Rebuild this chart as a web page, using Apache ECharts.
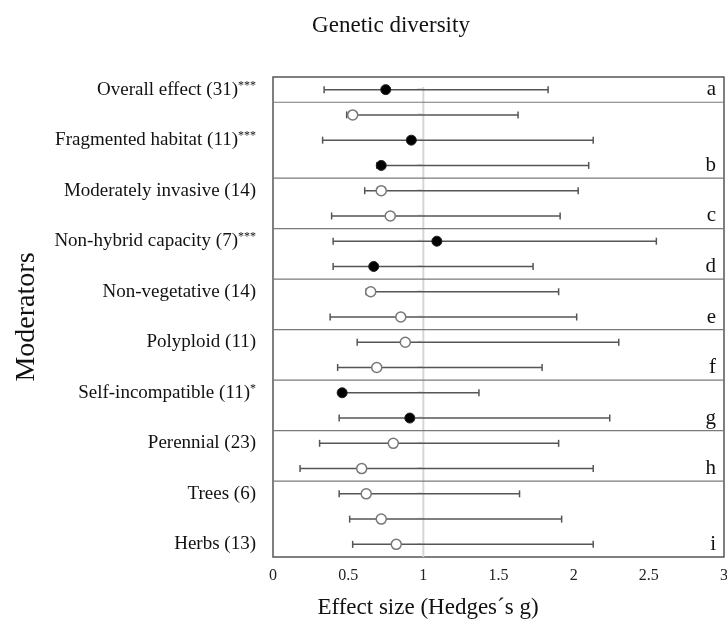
<!DOCTYPE html>
<html>
<head>
<meta charset="utf-8">
<script src="https://cdn.jsdelivr.net/npm/echarts@6/dist/echarts.min.js"></script>
<style>html,body{margin:0;padding:0;background:#fff;}#c{width:727px;height:623px;}</style>
</head>
<body>
<div id="c"></div>
<script>
// ---- data ----
var labelNames = ['Overall effect (31)', '', 'Fragmented habitat (11)', '', 'Moderately invasive (14)', '', 'Non-hybrid capacity (7)', '', 'Non-vegetative (14)', '', 'Polyploid (11)', '', 'Self-incompatible (11)', '', 'Perennial (23)', '', 'Trees (6)', '', 'Herbs (13)'];
var labelStars = ['***', '', '***', '', '', '', '***', '', '', '', '', '', '*', '', '', '', '', '', ''];
var lower = [0.34, 0.49, 0.33, 0.69, 0.61, 0.39, 0.40, 0.40, 0.62, 0.38, 0.56, 0.43, 0.45, 0.44, 0.31, 0.18, 0.44, 0.51, 0.53];
var mean  = [0.75, 0.53, 0.92, 0.72, 0.72, 0.78, 1.09, 0.67, 0.65, 0.85, 0.88, 0.69, 0.46, 0.91, 0.80, 0.59, 0.62, 0.72, 0.82];
var upper = [1.83, 1.63, 2.13, 2.10, 2.03, 1.91, 2.55, 1.73, 1.90, 2.02, 2.30, 1.79, 1.37, 2.24, 1.90, 2.13, 1.64, 1.92, 2.13];
var filled = [1, 0, 1, 1, 0, 0, 1, 1, 0, 0, 0, 0, 1, 1, 0, 0, 0, 0, 0];
var groupLetters = ['a', 'b', 'c', 'd', 'e', 'f', 'g', 'h', 'i'];
var groupFirstRow = [0, 1, 4, 6, 8, 10, 12, 14, 16];
var groupLastRow  = [0, 3, 5, 7, 9, 11, 13, 15, 18];
var xTicks = [0, 0.5, 1, 1.5, 2, 2.5, 3];

var SERIF = '"Liberation Serif", "DejaVu Serif", serif';
var rows = labelNames.map(function (_, i) { return 'r' + i; });

var errData = mean.map(function (m, i) { return [lower[i], upper[i], i]; });
var filledData = [], openData = [];
mean.forEach(function (m, i) {
  if (filled[i]) filledData.push([m, i]); else openData.push([m, i]);
});

var chart = echarts.init(document.getElementById('c'), null, {renderer: 'canvas'});
chart.setOption({
  animation: false,
  backgroundColor: '#fff',
  grid: {left: 273, right: 3, top: 77, bottom: 66, containLabel: false, outerBoundsMode: 'none', show: true, borderColor: '#555', borderWidth: 1.5, backgroundColor: 'transparent'},
  graphic: [
    {type: 'text', x: 391, y: 26, style: {text: 'Genetic diversity', font: '23px ' + SERIF, fill: '#111', textAlign: 'center', textVerticalAlign: 'middle'}},
    {type: 'text', x: 428, y: 608, style: {text: 'Effect size (Hedges\u00b4s g)', font: '23px ' + SERIF, fill: '#111', textAlign: 'center', textVerticalAlign: 'middle'}}
  ],
  xAxis: {
    type: 'value', min: xTicks[0], max: xTicks[xTicks.length - 1], interval: 0.5,
    axisLine: {show: false}, axisTick: {show: false}, splitLine: {show: false},
    axisLabel: {fontFamily: SERIF, fontSize: 16, color: '#222', margin: 11}
  },
  yAxis: {
    type: 'category', data: rows, inverse: true,
    name: 'Moderators', nameLocation: 'middle', nameRotate: 90, nameGap: 232, nameMoveOverlap: false,
    nameTextStyle: {fontFamily: SERIF, fontSize: 28, color: '#111'},
    axisLine: {show: false}, axisTick: {show: false}, splitLine: {show: false},
    axisLabel: {
      margin: 17, interval: 0,
      formatter: function (v, i) {
        if (!labelNames[i]) return '';
        return '{n|' + labelNames[i] + '}' + (labelStars[i] ? '{s|' + labelStars[i] + '}' : '');
      },
      rich: {
        n: {fontFamily: SERIF, fontSize: 19, color: '#111'},
        s: {fontFamily: SERIF, fontSize: 12, color: '#111', verticalAlign: 'top', padding: [0, 0, 8, 0]}
      }
    }
  },
  series: [
    {
      // reference line at 1 with small row dashes
      type: 'custom', silent: true, z: 1,
      data: [[1]],
      renderItem: function (params, api) {
        var x = api.coord([1, 0])[0];
        var band = api.size([0, 1])[1];
        var top = api.coord([1, 0])[1] - band * 0.1;
        var bottom = params.coordSys.y + params.coordSys.height;
        var children = [{type: 'line', shape: {x1: x, y1: top, x2: x, y2: bottom}, style: {stroke: '#d6d6d6', lineWidth: 2}}];
        for (var i = 0; i < labelNames.length; i++) {
          var y = api.coord([1, i])[1] - 1;
          children.push({type: 'line', shape: {x1: x - 6, y1: y, x2: x, y2: y}, style: {stroke: '#dddddd', lineWidth: 1}});
        }
        return {type: 'group', children: children};
      }
    },
    {
      // group separators and letters
      type: 'custom', silent: true, z: 2,
      data: groupLetters.map(function (l, g) { return [g]; }),
      renderItem: function (params, api) {
        var g = params.dataIndex;
        var cs = params.coordSys;
        var band = api.size([0, 1])[1];
        var children = [];
        if (groupFirstRow[g] > 0) {
          var ys = api.coord([0, groupFirstRow[g]])[1] - band / 2;
          children.push({type: 'line', shape: {x1: cs.x, y1: ys, x2: cs.x + cs.width, y2: ys}, style: {stroke: '#7a7a7a', lineWidth: 1.2}});
        }
        var ly = api.coord([0, groupLastRow[g]])[1];
        children.push({type: 'text', x: cs.x + cs.width - 8, y: ly, style: {text: groupLetters[g], font: '21px ' + SERIF, fill: '#111', textAlign: 'right', textVerticalAlign: 'middle'}});
        return {type: 'group', children: children};
      }
    },
    {
      // error bars
      type: 'custom', z: 3,
      data: errData,
      encode: {x: [0, 1], y: 2},
      renderItem: function (params, api) {
        var r = api.value(2);
        var p1 = api.coord([api.value(0), r]);
        var p2 = api.coord([api.value(1), r]);
        var h = 3.5;
        var st = {stroke: '#555', lineWidth: 1.5};
        return {type: 'group', children: [
          {type: 'line', shape: {x1: p1[0], y1: p1[1], x2: p2[0], y2: p2[1]}, style: st},
          {type: 'line', shape: {x1: p1[0], y1: p1[1] - h, x2: p1[0], y2: p1[1] + h}, style: st},
          {type: 'line', shape: {x1: p2[0], y1: p2[1] - h, x2: p2[0], y2: p2[1] + h}, style: st}
        ]};
      }
    },
    {
      type: 'scatter', z: 4, data: filledData, symbol: 'circle', symbolSize: 10,
      itemStyle: {color: '#000', borderColor: '#222', borderWidth: 1, opacity: 1}
    },
    {
      type: 'scatter', z: 4, data: openData, symbol: 'circle', symbolSize: 10,
      itemStyle: {color: '#fff', borderColor: '#777', borderWidth: 1.5, opacity: 1}
    }
  ]
});
</script>
</body>
</html>
